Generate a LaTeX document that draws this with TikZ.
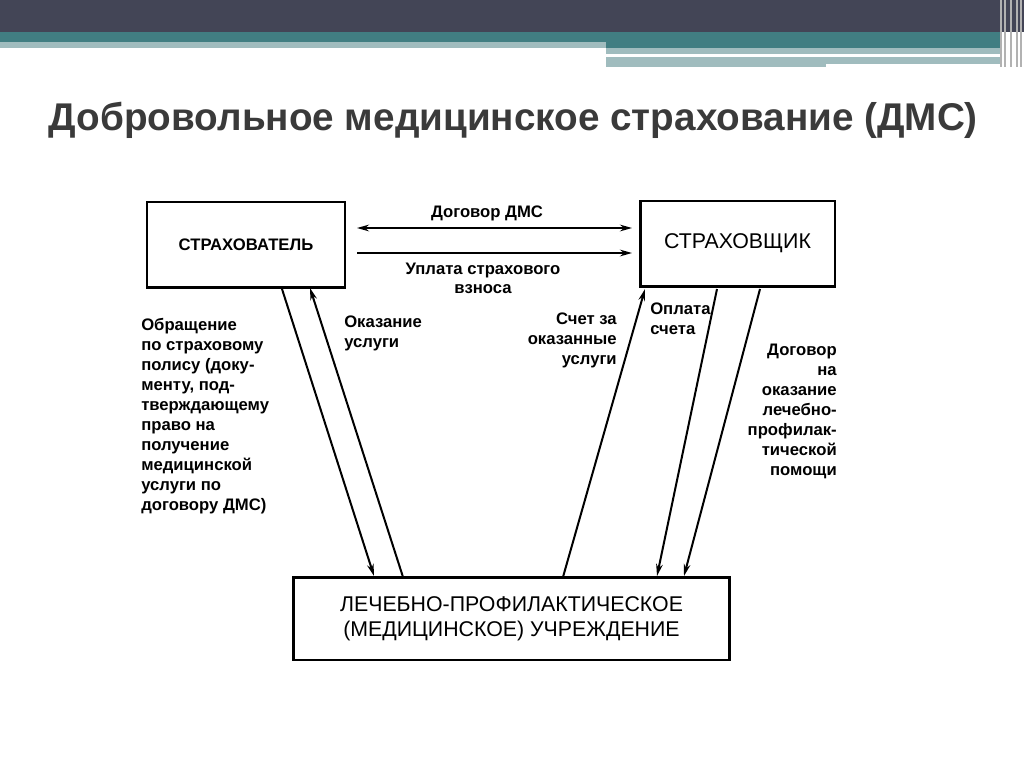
\documentclass[tikz,border=0pt]{standalone}
\usepackage{fontspec}
\setmainfont{Liberation Sans}
\usetikzlibrary{arrows.meta}
\definecolor{dark}{HTML}{434556}
\definecolor{teal}{HTML}{417E82}
\definecolor{lteal}{HTML}{A0BCBE}
\definecolor{ttl}{HTML}{3A3A3A}
\begin{document}
\begin{tikzpicture}[x=0.75pt,y=-0.75pt,
  box/.style={draw,line width=2pt,minimum width=#1,minimum height=64pt,inner sep=0pt},
  lbl/.style={font=\bfseries\fontsize{12.5}{15}\selectfont,inner sep=0pt},
  arr/.style={line width=1.5pt,-{Stealth[length=9pt,width=5pt]}}]
\useasboundingbox (0,0) rectangle (1024,767);
\fill[dark] (0,0) rectangle (1024,32);
\fill[teal] (0,32) rectangle (1000,48);
\fill[lteal] (0,42) rectangle (606,48);
\fill[lteal] (606,48) rectangle (1000,54);
\fill[lteal] (606,57) rectangle (826,67);
\fill[lteal] (826,57) rectangle (1000,64);
\foreach \x in {1000,1004,1010,1016,1020} \fill[gray!60] (\x,0) rectangle (\x+2,67);
\node[anchor=west,text=ttl,font=\bfseries\fontsize{29}{33}\selectfont] (title) at (44,120) {Добровольное медицинское страхование (ДМС)};
\node[box=148.5pt,font=\bfseries\fontsize{12.5}{14}\selectfont] (s1) at (246,244.5) {СТРАХОВАТЕЛЬ};
\node[box=146pt,font=\fontsize{16}{18}\selectfont] (s2) at (737.5,243.5) {СТРАХОВЩИК};
\node[box=327pt,minimum height=62pt,font=\fontsize{16}{19}\selectfont,align=center] (lpu) at (511.5,618.5) {ЛЕЧЕБНО-ПРОФИЛАКТИЧЕСКОЕ\\(МЕДИЦИНСКОЕ) УЧРЕЖДЕНИЕ};
\coordinate (a1) at (357,228); \coordinate (b1) at (632,228);
\draw[line width=1.5pt,{Stealth[length=9pt,width=5pt]}-{Stealth[length=9pt,width=5pt]}] (a1) -- (b1);
\coordinate (a2) at (357,253); \coordinate (b2) at (632,253);
\draw[arr] (a2) -- (b2);
\node[lbl] (t1) at (487,213) {Договор ДМС};
\node[lbl] (t2) at (483,280) {\begin{tabular}{@{}c@{}}Уплата страхового\\[-1pt]взноса\end{tabular}};
\draw[arr] (282,289) -- (374,576);
\draw[arr] (403,577) -- (310,288);
\draw[arr] (563,577) -- (645,289);
\draw[arr] (717,289) -- (657,576);
\draw[arr] (760,289) -- (684,576);
\node[lbl,anchor=north west,align=left] (t3) at (141,318) {Обращение\\по страховому\\полису (доку-\\менту, под-\\тверждающему\\право на\\получение\\медицинской\\услуги по\\договору ДМС)};
\node[lbl,anchor=north west,align=left] (t4) at (344,316) {Оказание\\услуги};
\node[lbl,anchor=north east,align=right] (t5) at (617,313) {Счет за\\оказанные\\услуги};
\node[lbl,anchor=north west,align=left] (t6) at (650,303) {Оплата\\счета};
\node[lbl,anchor=north east,align=right] (t7) at (837,344) {Договор\\на\\оказание\\лечебно-\\профилак-\\тической\\помощи};
\end{tikzpicture}
\end{document}
